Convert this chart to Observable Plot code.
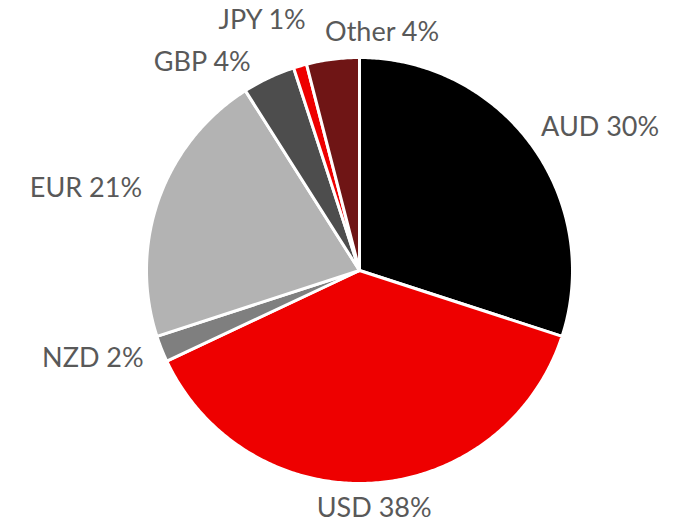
<!DOCTYPE html>
<html>
<head>
<meta charset="utf-8">
<script src="https://cdn.jsdelivr.net/npm/d3@7"></script>
<script src="https://cdn.jsdelivr.net/npm/@observablehq/plot@0.6"></script>
<style>
  html, body { margin: 0; padding: 0; background: #fff; }
</style>
</head>
<body>
<div id="chart"></div>
<script>
// Data
const currencies = ["AUD", "USD", "NZD", "EUR", "GBP", "JPY", "Other"];
const shares = [30, 38, 2, 21, 4, 1, 4];
const sliceColors = ["#000000", "#ee0000", "#7f7f7f", "#b3b3b3", "#4d4d4d", "#ee0000", "#6f1515"];

// Layout
const W = 673, H = 525, cx = 359, cy = 270, R = 213;
const labelRadius = 1.1;
// label nudges in px [dx, dy, anchor]
const labelLayout = {
  AUD: [-8, -5, "start"],
  USD: [0, 4, "middle"],
  NZD: [2, 2, "end"],
  EUR: [3, -3, "end"],
  GBP: [-9, 4, "end"],
  JPY: [-32, -25, "middle"],
  Other: [52, -6, "middle"]
};

const rows = currencies.map((name, i) => ({name, value: shares[i]}));
const arcs = d3.pie().sort(null).value(d => d.value)(rows);

const polys = [];
for (const a of arcs) {
  const name = a.data.name;
  polys.push({name, x: 0, y: 0});
  const n = Math.max(2, Math.ceil((a.endAngle - a.startAngle) / 0.01));
  for (let k = 0; k <= n; k++) {
    const t = a.startAngle + (a.endAngle - a.startAngle) * k / n;
    polys.push({name, x: Math.sin(t), y: Math.cos(t)});
  }
}

const labels = arcs.map(a => {
  const name = a.data.name;
  const mid = (a.startAngle + a.endAngle) / 2;
  const [dx, dy, anchor] = labelLayout[name];
  return {
    name,
    text: `${name} ${a.data.value}%`,
    x: labelRadius * Math.sin(mid) + dx / R,
    y: labelRadius * Math.cos(mid) - dy / R,
    anchor
  };
});

const textMark = anchor => Plot.text(labels.filter(d => d.anchor === anchor), {
  x: "x", y: "y", text: "text", textAnchor: anchor,
  fill: "#595959", fontSize: 27, lineAnchor: "middle"
});

const chart = Plot.plot({
  width: W, height: H,
  margin: 0,
  style: {fontFamily: "'Source Sans Pro', Lato, 'Noto Sans', sans-serif", background: "#fff"},
  x: {domain: [-cx / R, (W - cx) / R], axis: null},
  y: {domain: [-(H - cy) / R, cy / R], axis: null},
  color: {domain: currencies, range: sliceColors},
  marks: [
    Plot.line(polys, {x: "x", y: "y", z: "name", fill: "name", stroke: "white", strokeWidth: 3, curve: "linear-closed", strokeLinejoin: "round"}),
    textMark("start"),
    textMark("middle"),
    textMark("end")
  ]
});
document.getElementById("chart").appendChild(chart);
</script>
</body>
</html>
